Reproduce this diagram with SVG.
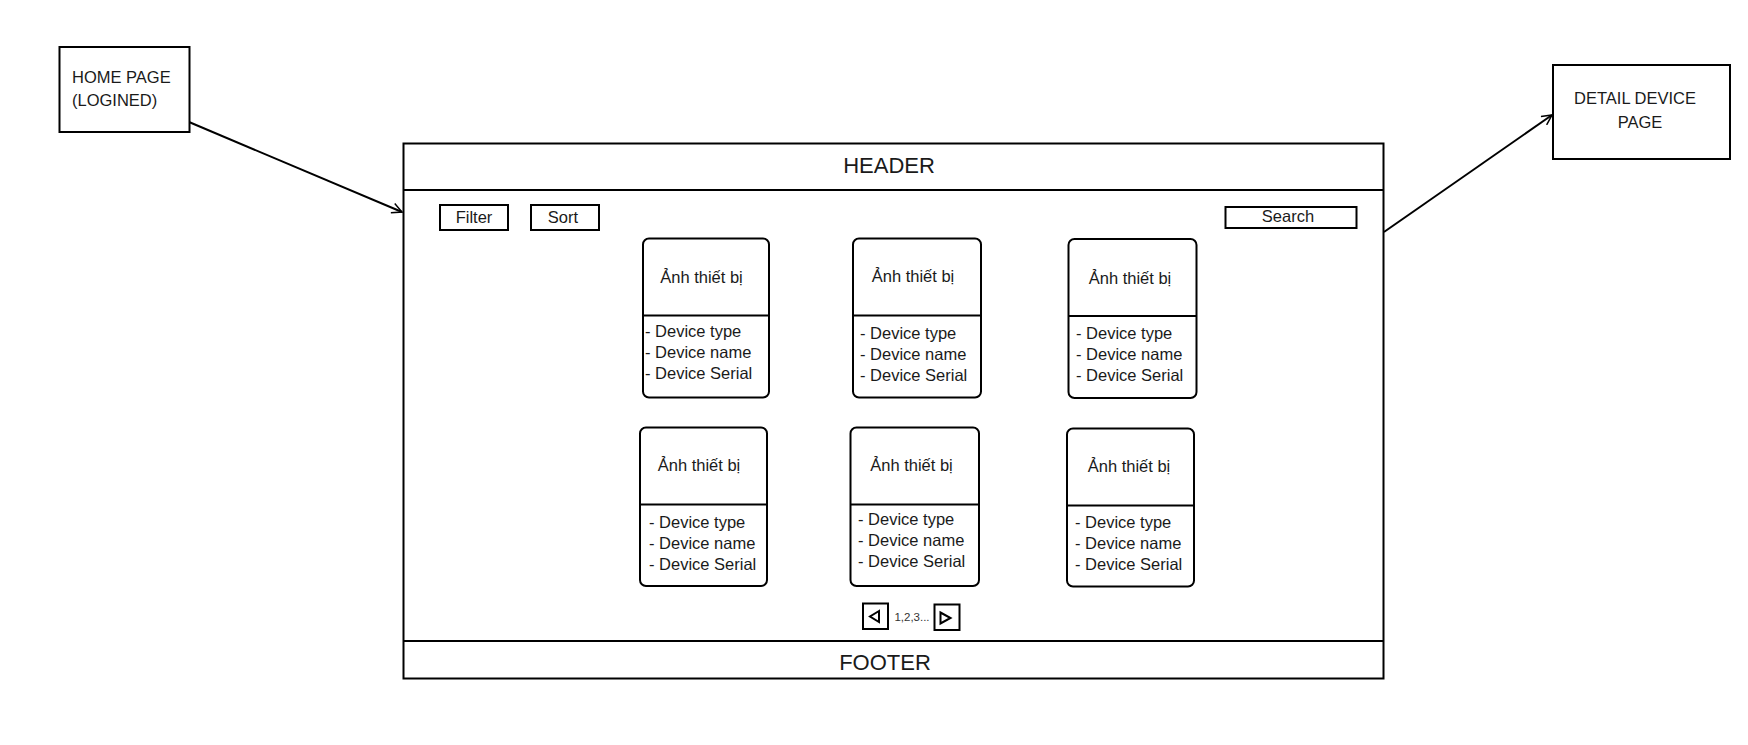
<svg xmlns="http://www.w3.org/2000/svg" width="1748" height="745" viewBox="0 0 1748 745">
<defs>
<style>
.box{fill:#fff;stroke:#000;stroke-width:2}
.card{fill:#fff;stroke:#000;stroke-width:2}
.ln{stroke:#000;stroke-width:2;fill:none}
.t{font-family:"Liberation Sans",Arial,sans-serif;fill:#1a1a1a}
.c{text-anchor:middle}
.s16{font-size:16px}
.s165{font-size:16.5px}
.s22{font-size:22px}
</style>
<marker id="arr" viewBox="0 0 12 12" refX="11" refY="6" markerWidth="12" markerHeight="12" markerUnits="userSpaceOnUse" orient="auto">
<path d="M1,1 L11,6 L1,11" fill="none" stroke="#000" stroke-width="1.5"/>
</marker>
</defs>
<rect width="1748" height="745" fill="#fff"/>
<g id="connectors">
<line class="ln" x1="189" y1="122" x2="402" y2="212" marker-end="url(#arr)"/>
<line class="ln" x1="1384" y1="232" x2="1552" y2="115" marker-end="url(#arr)"/>
</g>
<g id="home-page">
<rect class="box" x="59.5" y="47" width="130" height="85"/>
<text class="t s165" x="72" y="83">HOME PAGE</text>
<text class="t s165" x="72" y="106">(LOGINED)</text>
</g>
<g id="detail-device-page">
<rect class="box" x="1553" y="65" width="177" height="94"/>
<text class="t s165 c" x="1635" y="104">DETAIL DEVICE</text>
<text class="t s165 c" x="1640" y="128">PAGE</text>
</g>
<g id="main-frame">
<rect class="box" x="403.5" y="143.5" width="980" height="535"/>
<line class="ln" x1="403.5" y1="190" x2="1383.5" y2="190"/>
<line class="ln" x1="403.5" y1="641" x2="1383.5" y2="641"/>
<text class="t s22 c" x="889" y="173">HEADER</text>
<text class="t s22 c" x="885" y="670">FOOTER</text>
</g>
<g id="filter">
<rect class="box" x="440" y="205" width="68" height="25"/>
<text class="t s165 c" x="474" y="223">Filter</text>
</g>
<g id="sort">
<rect class="box" x="531" y="205" width="68" height="25"/>
<text class="t s165 c" x="563" y="223">Sort</text>
</g>
<g id="search">
<rect class="box" x="1225.5" y="207" width="131" height="21"/>
<text class="t s165 c" x="1288" y="221.5">Search</text>
</g>
<g id="card-1">
<rect class="card" x="643" y="238.5" width="126" height="159" rx="6"/>
<line class="ln" x1="643" y1="315.5" x2="769" y2="315.5"/>
<text class="t s165 c" x="701.5" y="282.5">Ảnh thiết bị</text>
<text class="t s165" x="645" y="336.5">- Device type</text>
<text class="t s165" x="645" y="357.5">- Device name</text>
<text class="t s165" x="645" y="378.5">- Device Serial</text>
</g>
<g id="card-2">
<rect class="card" x="853" y="238.5" width="128" height="159" rx="6"/>
<line class="ln" x1="853" y1="315.5" x2="981" y2="315.5"/>
<text class="t s165 c" x="913" y="282">Ảnh thiết bị</text>
<text class="t s165" x="860" y="338.5">- Device type</text>
<text class="t s165" x="860" y="359.5">- Device name</text>
<text class="t s165" x="860" y="380.5">- Device Serial</text>
</g>
<g id="card-3">
<rect class="card" x="1068.5" y="239" width="128" height="159" rx="6"/>
<line class="ln" x1="1068.5" y1="316" x2="1196.5" y2="316"/>
<text class="t s165 c" x="1130" y="283.5">Ảnh thiết bị</text>
<text class="t s165" x="1076" y="338.5">- Device type</text>
<text class="t s165" x="1076" y="359.5">- Device name</text>
<text class="t s165" x="1076" y="380.5">- Device Serial</text>
</g>
<g id="card-4">
<rect class="card" x="640" y="427.5" width="127" height="158.5" rx="6"/>
<line class="ln" x1="640" y1="504.5" x2="767" y2="504.5"/>
<text class="t s165 c" x="699" y="471">Ảnh thiết bị</text>
<text class="t s165" x="649" y="528">- Device type</text>
<text class="t s165" x="649" y="549">- Device name</text>
<text class="t s165" x="649" y="570">- Device Serial</text>
</g>
<g id="card-5">
<rect class="card" x="850.5" y="427.5" width="128.5" height="158.5" rx="6"/>
<line class="ln" x1="850.5" y1="504.5" x2="979" y2="504.5"/>
<text class="t s165 c" x="911.5" y="470.5">Ảnh thiết bị</text>
<text class="t s165" x="858" y="525">- Device type</text>
<text class="t s165" x="858" y="546">- Device name</text>
<text class="t s165" x="858" y="567">- Device Serial</text>
</g>
<g id="card-6">
<rect class="card" x="1067" y="428.5" width="127" height="158" rx="6"/>
<line class="ln" x1="1067" y1="505.5" x2="1194" y2="505.5"/>
<text class="t s165 c" x="1129" y="472">Ảnh thiết bị</text>
<text class="t s165" x="1075" y="528">- Device type</text>
<text class="t s165" x="1075" y="549">- Device name</text>
<text class="t s165" x="1075" y="570">- Device Serial</text>
</g>
<g id="pagination">
<rect class="box" x="863" y="603.5" width="25" height="25.5"/>
<path d="M879,611 L870,616.5 L879,622 Z" class="ln"/>
<text class="t c" style="font-size:11.5px;fill:#333" x="912" y="620.5">1,2,3...</text>
<rect class="box" x="934.5" y="604.5" width="25" height="25.5"/>
<path d="M940.5,612.5 L950.5,618 L940.5,623.5 Z" class="ln"/>
</g>
</svg>
